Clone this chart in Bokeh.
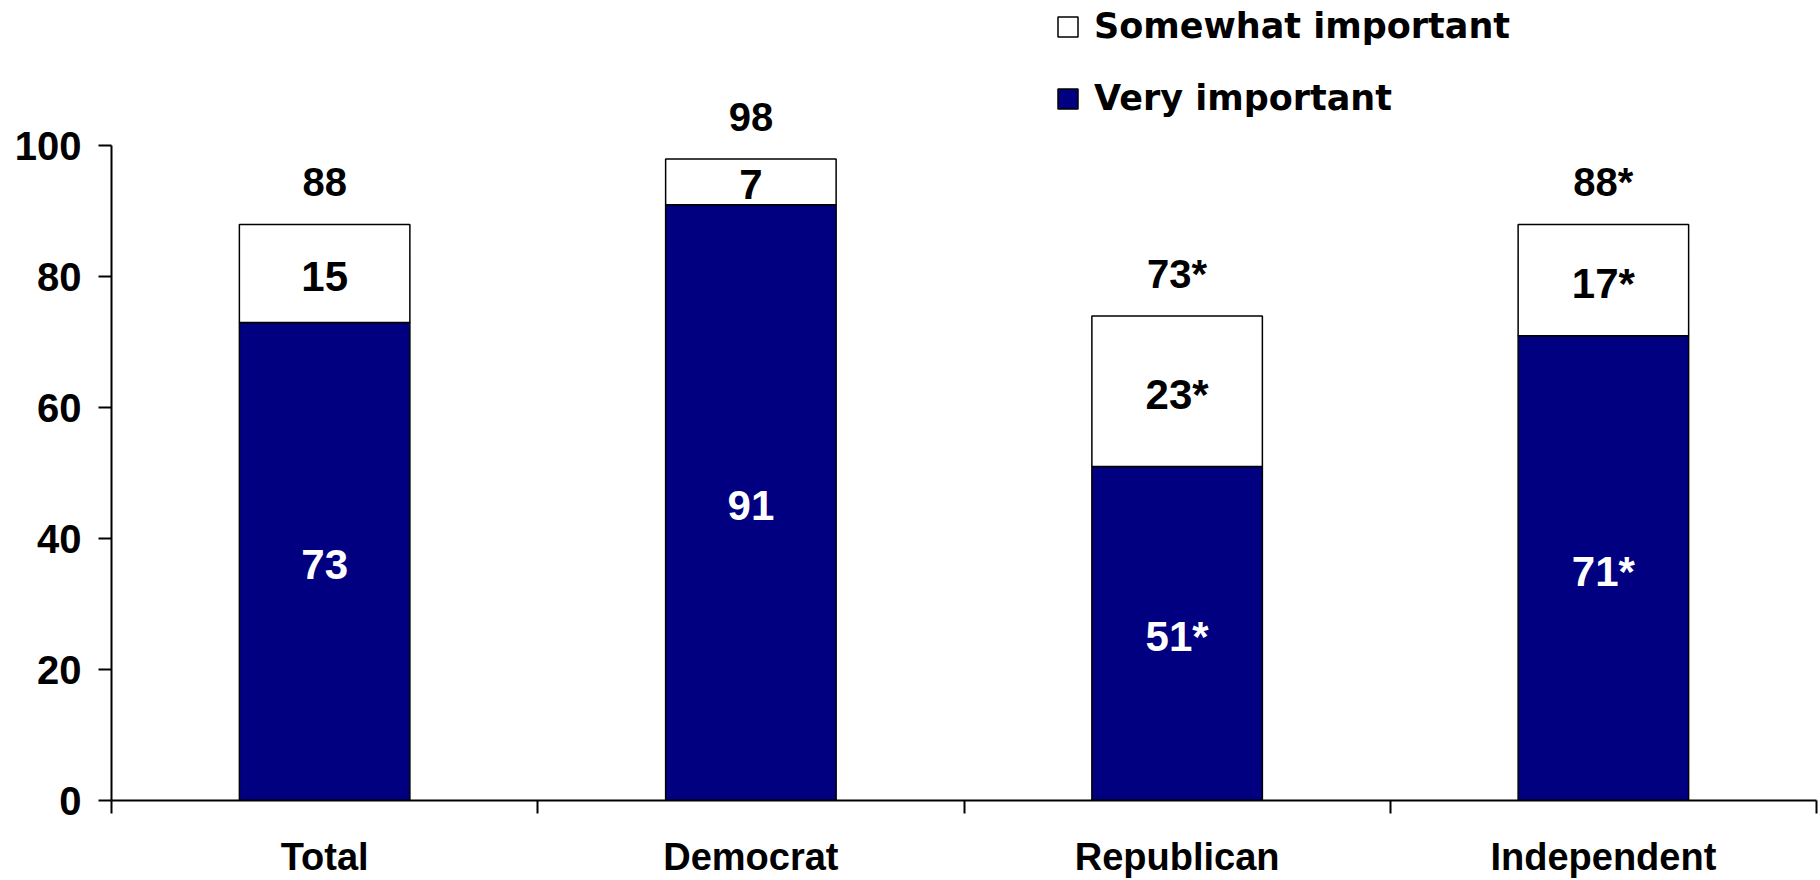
from bokeh.plotting import figure
from bokeh.models import Range1d, FixedTicker, Legend, LegendItem
from bokeh.core.properties import value
from bokeh.embed import file_html
from bokeh.resources import INLINE

categories = ["Total", "Democrat", "Republican", "Independent"]
very_important = [73, 91, 51, 71]
somewhat_important = [15, 7, 23, 17]
very_labels = ["73", "91", "51*", "71*"]
somewhat_labels = ["15", "7", "23*", "17*"]
total_labels = ["88", "98", "73*", "88*"]
y_ticks = [0, 20, 40, 60, 80, 100]

NAVY = "#000080"
FONT = "Liberation Sans"

xs = [i + 0.5 for i in range(len(categories))]
bounds_x = [i for i in range(len(categories) + 1)]
tops = [v + s for v, s in zip(very_important, somewhat_important)]
very_mid = [v / 2 for v in very_important]
some_mid = [v + s / 2 for v, s in zip(very_important, somewhat_important)]

p = figure(width=1820, height=880, output_backend="svg", toolbar_location=None,
           x_range=Range1d(0, len(categories)), y_range=Range1d(0, 122.2),
           min_border_left=111, min_border_right=4, min_border_top=0,
           min_border_bottom=77)
p.grid.visible = False
p.outline_line_color = None
p.background_fill_color = "white"
p.border_fill_color = "white"

r_very = p.vbar(x=xs, bottom=0, top=very_important, width=0.4,
                fill_color=NAVY, line_color="black", line_width=1.5)
r_some = p.vbar(x=xs, bottom=very_important, top=tops, width=0.4,
                fill_color="white", line_color="black", line_width=1.5)

p.text(x=xs, y=very_mid, text=very_labels, text_color="white",
       text_font=value(FONT), text_font_style="bold", text_font_size="42px",
       text_align="center", text_baseline="middle", y_offset=3)
p.text(x=xs, y=some_mid, text=somewhat_labels, text_color="black",
       text_font=value(FONT), text_font_style="bold", text_font_size="42px",
       text_align="center", text_baseline="middle", y_offset=3)
p.text(x=xs, y=tops, text=total_labels, text_color="black",
       text_font=value(FONT), text_font_style="bold", text_font_size="40px",
       text_align="center", text_baseline="middle", y_offset=-42)

# y axis
ya = p.yaxis[0]
ya.ticker = FixedTicker(ticks=y_ticks)
ya.bounds = (0, 100)
ya.axis_line_width = 2
ya.axis_line_color = "black"
ya.major_tick_out = 13
ya.major_tick_in = 0
ya.major_tick_line_width = 2
ya.minor_tick_line_color = None
ya.major_label_text_font = FONT
ya.major_label_text_font_style = "bold"
ya.major_label_text_font_size = "40px"
ya.major_label_text_color = "black"
ya.major_label_standoff = 17

# x axis
xa = p.xaxis[0]
xa.ticker = FixedTicker(ticks=xs, minor_ticks=bounds_x)
xa.major_label_overrides = {x: c for x, c in zip(xs, categories)}
xa.axis_line_width = 2
xa.axis_line_color = "black"
xa.major_tick_out = 0
xa.major_tick_in = 0
xa.major_tick_line_color = None
xa.minor_tick_out = 13
xa.minor_tick_in = 0
xa.minor_tick_line_width = 2
xa.minor_tick_line_color = "black"
xa.major_label_text_font = FONT
xa.major_label_text_font_style = "bold"
xa.major_label_text_font_size = "38px"
xa.major_label_text_color = "black"
xa.major_label_standoff = 22

legend = Legend(items=[LegendItem(label="Somewhat important", renderers=[r_some]),
                       LegendItem(label="Very important", renderers=[r_very])],
                location=(944, 682), orientation="vertical")
legend.glyph_width = 25
legend.glyph_height = 25
legend.label_height = 25
legend.label_standoff = 14
legend.spacing = 32
legend.padding = 0
legend.margin = 0
legend.border_line_color = None
legend.background_fill_alpha = 0
legend.label_text_font = "DejaVu Sans"
legend.label_text_font_style = "bold"
legend.label_text_font_size = "35px"
legend.label_text_color = "black"
p.add_layout(legend)

open("out.html", "w").write(file_html(p, INLINE))
